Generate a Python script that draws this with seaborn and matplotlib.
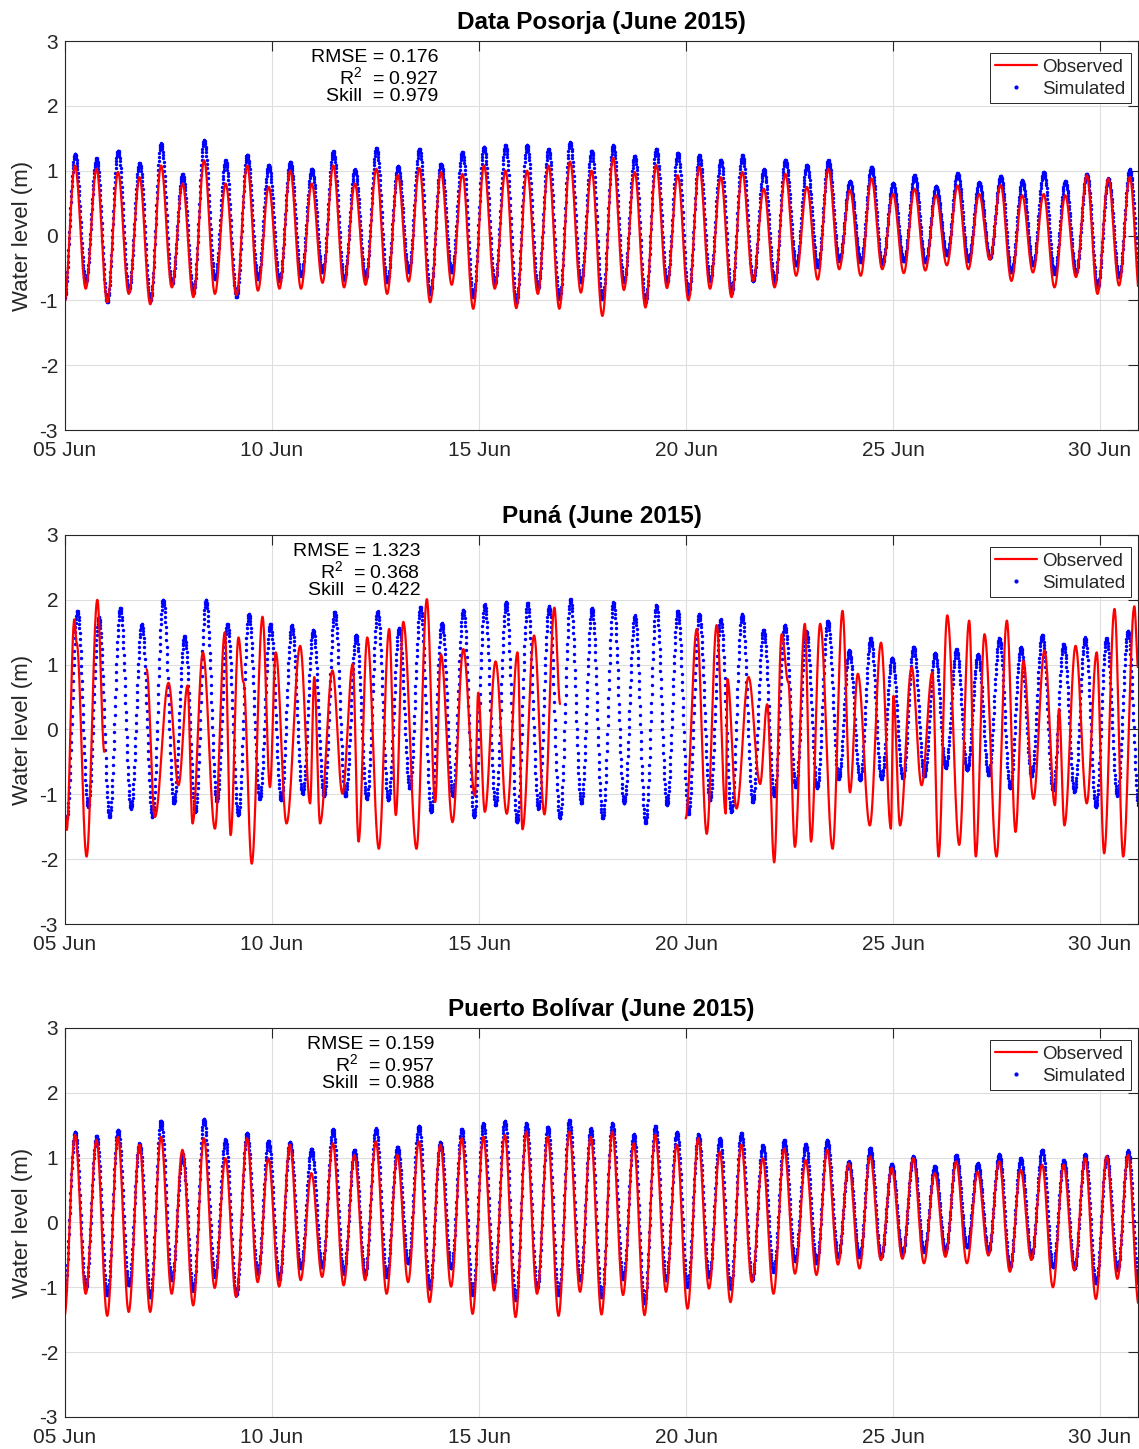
import numpy as np
import pandas as pd
import matplotlib
matplotlib.use("Agg")
import matplotlib.pyplot as plt
import matplotlib.dates as mdates
from matplotlib.lines import Line2D
import seaborn as sns

# ---------------------------------------------------------------- data
START = pd.Timestamp("2015-06-05 00:00")
SPAN_DAYS = 25.92                      # series run to 30 Jun ~22:00
STEP_DAYS = 10.0 / 1440.0              # 10-minute output interval

titles = ["Data Posorja (June 2015)", "Puná (June 2015)", "Puerto Bolívar (June 2015)"]
rmse = [0.176, 1.323, 0.159]
r2 = [0.927, 0.368, 0.957]
skill = [0.979, 0.422, 0.988]

# time of the first high water (days after 05 Jun 00:00) and mean high-water spacing (h)
first_high_day = [0.24, 0.297, 0.24]
high_spacing_h = [12.48, 12.43, 12.46]

# Data Posorja: successive high / low water levels (m)
posorja_sim_high = [1.26, 1.19, 1.31, 1.12, 1.42, 0.95, 1.47, 1.16, 1.25, 1.09,
                    1.14, 1.03, 1.30, 1.02, 1.35, 1.07, 1.34, 1.11, 1.29, 1.37,
                    1.40, 1.40, 1.34, 1.44, 1.31, 1.39, 1.23, 1.34, 1.28, 1.24,
                    1.17, 1.24, 1.02, 1.17, 1.09, 1.16, 0.84, 1.06, 0.81, 0.93,
                    0.76, 0.96, 0.82, 0.92, 0.85, 0.98, 0.84, 0.95, 0.88, 1.02]
posorja_sim_low = [-1.00, -0.72, -1.03, -0.85, -1.00, -0.75, -0.88, -0.67, -0.95, -0.67,
                   -0.70, -0.62, -0.57, -0.68, -0.67, -0.72, -0.56, -0.90, -0.57, -0.95,
                   -0.75, -1.03, -0.82, -0.98, -0.72, -0.98, -0.72, -1.03, -0.72, -0.90,
                   -0.70, -0.88, -0.70, -0.72, -0.46, -0.49, -0.39, -0.41, -0.44, -0.40,
                   -0.41, -0.30, -0.39, -0.35, -0.57, -0.46, -0.59, -0.57, -0.80, -0.64,
                   -0.85]
posorja_obs_high = [1.08, 1.03, 0.98, 0.90, 1.08, 0.80, 1.16, 0.80, 1.08, 0.75,
                    1.00, 0.80, 1.08, 0.80, 1.03, 0.93, 1.04, 0.98, 0.95, 1.08,
                    1.00, 1.00, 1.08, 1.14, 1.00, 1.20, 0.98, 1.09, 0.93, 1.06,
                    0.90, 0.98, 0.72, 0.95, 0.75, 1.03, 0.70, 0.88, 0.64, 0.72,
                    0.62, 0.77, 0.64, 0.78, 0.62, 0.64, 0.62, 0.93, 0.88, 0.90]
posorja_obs_low = [-1.05, -0.82, -1.03, -0.90, -1.06, -0.80, -0.95, -0.90, -0.92, -0.85,
                   -0.82, -0.82, -0.73, -0.80, -0.76, -0.90, -0.71, -1.03, -0.76, -1.13,
                   -0.82, -1.12, -0.90, -1.13, -0.88, -1.24, -0.84, -1.11, -0.81, -1.00,
                   -0.82, -0.95, -0.70, -0.80, -0.62, -0.68, -0.52, -0.62, -0.52, -0.58,
                   -0.54, -0.46, -0.52, -0.37, -0.70, -0.57, -0.80, -0.64, -0.90, -0.77,
                   -1.05]

# Puná: simulated high / low water levels (m)
puna_sim_high = [1.83, 1.73, 1.88, 1.63, 2.00, 1.44, 2.00, 1.63, 1.78, 1.63,
                 1.61, 1.54, 1.82, 1.46, 1.82, 1.56, 1.89, 1.64, 1.85, 1.93,
                 1.97, 1.95, 1.90, 2.01, 1.87, 1.96, 1.76, 1.92, 1.83, 1.78,
                 1.70, 1.78, 1.54, 1.61, 1.52, 1.68, 1.22, 1.41, 1.11, 1.28,
                 1.18, 1.24, 1.16, 1.41, 1.27, 1.46, 1.32, 1.42, 1.41, 1.52]
puna_sim_low = [-1.37, -1.19, -1.35, -1.22, -1.35, -1.14, -1.27, -1.11, -1.32, -1.07,
                -1.09, -0.99, -1.02, -1.03, -1.07, -1.09, -0.91, -1.27, -1.02, -1.35,
                -1.17, -1.43, -1.22, -1.37, -1.14, -1.37, -1.14, -1.44, -1.16, -1.30,
                -1.09, -1.27, -1.12, -1.02, -0.89, -0.90, -0.76, -0.78, -0.76, -0.75,
                -0.72, -0.59, -0.63, -0.71, -0.90, -0.72, -0.94, -0.96, -1.19, -1.02,
                -1.19]

# Puná: observed turning points (days after 05 Jun 00:00, level in m); NaN marks a gap
puna_obs_day = [0.00, 0.04, 0.225, 0.28, 0.52, 0.78, 0.95, np.nan,
                1.97, 2.17, 2.50, 2.74, 2.96, 3.08, 3.33, 3.62, 3.86, 4.00,
                4.19, 4.31, 4.51, 4.77, 4.95, 5.09, 5.35, 5.68, 5.92, 6.02,
                6.16, 6.46, 6.70, 6.95, 7.09, 7.30, 7.58, 7.83, 7.99, 8.17,
                8.49, 8.74, 8.94, 9.08, 9.36, 9.62, 9.90, 9.98, 10.14, 10.40,
                10.67, 10.93, 11.05, 11.33, 11.58, 11.82, 11.96, np.nan,
                14.99, 15.26, 15.50, 15.74, 15.96, 16.00, 16.22, 16.51, 16.79, 16.96,
                17.13, 17.31, 17.47, 17.63, 17.87, 18.02, 18.24, 18.54, 18.78, 18.96,
                19.15, 19.44, 19.71, 19.95, 20.01, 20.17, 20.45, 20.69, 20.95, 21.10,
                21.31, 21.60, 21.84, 22.00, 22.21, 22.50, 22.75, 22.96, 23.15, 23.39,
                23.66, 23.91, 24.01, 24.14, 24.41, 24.68, 24.92, 25.10, 25.35, 25.56,
                25.83, 25.92]
puna_obs_level = [-1.32, -1.55, 1.70, 1.34, -1.96, 2.00, -0.35, np.nan,
                  0.93, -1.35, 0.72, -0.86, 0.68, -1.45, 1.19, -1.53, 1.50, -1.63,
                  1.42, 0.73, -2.07, 1.74, -0.89, 1.19, -1.45, 1.29, -1.14, 0.81,
                  -1.45, 0.91, -0.99, 1.01, -1.73, 1.42, -1.84, 1.55, -1.32, 1.66,
                  -1.84, 2.01, -1.12, 1.16, -1.43, 1.24, -1.02, 0.57, -1.27, 1.05,
                  -1.30, 1.19, -1.54, 1.45, -1.31, 1.88, 0.39, np.nan,
                  -1.37, 1.55, -1.61, 1.61, -1.30, 0.78, -1.22, 0.81, -0.84, 0.39,
                  -2.05, 1.47, 0.73, -1.81, 1.63, -1.73, 1.63, -1.84, 1.83, -0.97,
                  0.86, -1.48, 1.34, -1.53, 0.52, -1.48, 0.96, -0.86, 0.88, -1.96,
                  1.76, -1.78, 1.68, -1.96, 1.47, -1.96, 1.68, -1.58, 1.06, -1.07,
                  1.22, -1.17, 0.32, -1.48, 1.29, -1.14, 1.19, -1.91, 1.86, -1.96,
                  1.90, 0.95]

# Puerto Bolívar: successive high / low water levels (m)
bolivar_sim_high = [1.40, 1.34, 1.43, 1.22, 1.57, 1.05, 1.60, 1.28, 1.38, 1.26,
                    1.24, 1.14, 1.44, 1.12, 1.45, 1.17, 1.49, 1.24, 1.44, 1.53,
                    1.57, 1.53, 1.48, 1.58, 1.45, 1.53, 1.36, 1.49, 1.40, 1.36,
                    1.30, 1.38, 1.19, 1.27, 1.21, 1.27, 0.94, 1.15, 0.90, 1.02,
                    0.87, 1.04, 0.91, 1.05, 0.99, 1.12, 0.96, 1.05, 1.02, 1.11]
bolivar_sim_low = [-1.15, -1.02, -1.12, -0.97, -1.15, -0.89, -1.05, -0.84, -1.12, -0.79,
                   -0.87, -0.71, -0.69, -0.79, -0.81, -0.84, -0.63, -1.02, -0.71, -1.12,
                   -0.92, -1.20, -1.02, -1.12, -0.89, -1.15, -0.87, -1.25, -0.89, -0.99,
                   -0.84, -1.02, -0.89, -0.76, -0.60, -0.63, -0.53, -0.53, -0.53, -0.48,
                   -0.45, -0.45, -0.38, -0.45, -0.69, -0.53, -0.69, -0.71, -0.94, -0.74,
                   -0.97]
bolivar_obs_high = [1.35, 1.27, 1.32, 1.20, 1.32, 1.12, 1.30, 0.99, 1.30, 0.99,
                    1.20, 0.76, 1.22, 1.04, 1.25, 1.04, 1.25, 1.20, 1.30, 1.32,
                    1.35, 1.40, 1.32, 1.40, 1.32, 1.40, 1.22, 1.35, 1.20, 1.30,
                    1.09, 1.20, 0.99, 1.14, 0.96, 1.12, 0.91, 1.02, 0.84, 0.99,
                    0.76, 0.94, 0.78, 0.94, 0.81, 0.89, 0.89, 0.99, 1.02, 1.04]
bolivar_obs_low = [-1.46, -1.10, -1.44, -1.38, -1.38, -1.10, -1.28, -1.01, -1.15, -0.92,
                   -0.99, -0.89, -0.84, -0.97, -0.89, -1.10, -0.92, -1.23, -0.99, -1.41,
                   -1.05, -1.46, -1.10, -1.44, -1.07, -1.42, -1.12, -1.43, -1.07, -1.33,
                   -1.02, -1.23, -0.92, -1.10, -0.79, -0.81, -0.65, -0.71, -0.58, -0.56,
                   -0.63, -0.53, -0.63, -0.51, -0.76, -0.58, -1.00, -0.74, -1.18, -0.87,
                   -1.28]


# ---------------------------------------------------------------- helpers
def tide_curve(t_ext, h_ext, t):
    """Cosine (rule-of-twelfths) curve through successive turning points."""
    t_ext = np.asarray(t_ext, float)
    h_ext = np.asarray(h_ext, float)
    i = np.clip(np.searchsorted(t_ext, t) - 1, 0, len(t_ext) - 2)
    s = np.clip((t - t_ext[i]) / (t_ext[i + 1] - t_ext[i]), 0.0, 1.0)
    return h_ext[i] + (h_ext[i + 1] - h_ext[i]) * (1.0 - np.cos(np.pi * s)) / 2.0


def turning_points(k, highs, lows):
    half = high_spacing_h[k] / 48.0
    n = len(highs)
    times = first_high_day[k] - half + half * np.arange(2 * n + 1)
    levels = np.empty(2 * n + 1)
    levels[0::2] = lows
    levels[1::2] = highs
    return times, levels


def to_time(days):
    return START + pd.to_timedelta(days, unit="D")


t_days = np.arange(0.0, SPAN_DAYS + 1e-9, STEP_DAYS)


def series_frame(k, highs, lows):
    te, he = turning_points(k, highs, lows)
    return pd.DataFrame({"time": to_time(t_days), "level": tide_curve(te, he, t_days),
                         "segment": 0})


def puna_observed_frame():
    day = np.asarray(puna_obs_day, float)
    lev = np.asarray(puna_obs_level, float)
    cuts = np.where(np.isnan(day))[0]
    bounds = np.r_[-1, cuts, len(day)]
    parts = []
    for seg, (a, b) in enumerate(zip(bounds[:-1], bounds[1:])):
        d, h = day[a + 1:b], lev[a + 1:b]
        ts = np.arange(d[0], d[-1] + 1e-9, STEP_DAYS)
        parts.append(pd.DataFrame({"time": to_time(ts), "level": tide_curve(d, h, ts),
                                   "segment": seg}))
    return pd.concat(parts, ignore_index=True)


observed = [series_frame(0, posorja_obs_high, posorja_obs_low),
            puna_observed_frame(),
            series_frame(2, bolivar_obs_high, bolivar_obs_low)]
simulated = [series_frame(0, posorja_sim_high, posorja_sim_low),
             series_frame(1, puna_sim_high, puna_sim_low),
             series_frame(2, bolivar_sim_high, bolivar_sim_low)]

# ---------------------------------------------------------------- figure
sns.set_style("white")
plt.rcParams["font.family"] = ["Liberation Sans", "DejaVu Sans"]
plt.rcParams["mathtext.fontset"] = "custom"
plt.rcParams["mathtext.rm"] = "Liberation Sans"
plt.rcParams["mathtext.it"] = "Liberation Sans:italic"
plt.rcParams["mathtext.bf"] = "Liberation Sans:bold"
plt.rcParams["axes.unicode_minus"] = False

INK = "#262626"
fig = plt.figure(figsize=(11.39, 14.49), dpi=100)
bottoms = [0.7032, 0.3623, 0.0221]
stats_x = [0.348, 0.331, 0.344]

for k in range(3):
    ax = fig.add_axes([0.0571, bottoms[k], 0.9421, 0.2685])
    ax.grid(True, color="#dedede", lw=0.8)
    ax.set_axisbelow(True)

    sns.lineplot(data=observed[k], x="time", y="level", units="segment", estimator=None,
                 sort=False, color="red", lw=1.6, legend=False, ax=ax)
    sns.scatterplot(data=simulated[k], x="time", y="level", color="blue", s=6,
                    linewidth=0, legend=False, ax=ax)

    ax.set_xlim(START, to_time(SPAN_DAYS))
    ax.set_ylim(-3, 3)
    ax.set_yticks(range(-3, 4))
    ax.xaxis.set_major_locator(mdates.DayLocator(bymonthday=[5, 10, 15, 20, 25, 30]))
    ax.xaxis.set_major_formatter(mdates.DateFormatter("%d %b"))
    ax.tick_params(direction="in", length=7, width=0.8, top=True, right=True,
                   labelsize=15, labelcolor=INK, color=INK)
    ax.tick_params(axis="x", pad=8)
    ax.tick_params(axis="y", pad=5)
    for lab in ax.get_yticklabels():
        lab.set_verticalalignment("center_baseline")
    for sp in ax.spines.values():
        sp.set_color(INK)
        sp.set_linewidth(0.8)

    ax.set_xlabel("")
    ax.set_ylabel("Water level (m)", fontsize=16, color=INK)
    ax.yaxis.set_label_coords(-0.030, 0.5)
    ax.set_title(titles[k], fontsize=17.5, fontweight="bold", pad=8.5, color="black")

    ax.text(stats_x[k], 0.980,
            f"RMSE = {rmse[k]:.3f}\nR$^2$  = {r2[k]:.3f}\nSkill  = {skill[k]:.3f}",
            transform=ax.transAxes, ha="right", va="top", multialignment="right",
            fontsize=14, linespacing=1.0, color="black")

    handles = [Line2D([], [], color="red", lw=1.6),
               Line2D([], [], color="blue", marker=".", ls="none", ms=4)]
    leg = ax.legend(handles, ["Observed", "Simulated"], loc="upper right",
                    bbox_to_anchor=(0.9935, 0.969), borderaxespad=0, frameon=True,
                    fancybox=False, edgecolor=INK, framealpha=1, fontsize=13.5,
                    handlelength=2.2, handletextpad=0.3, borderpad=0.3,
                    labelspacing=0.25)
    leg.get_frame().set_linewidth(0.7)

fig.savefig("out.png", dpi=100)
